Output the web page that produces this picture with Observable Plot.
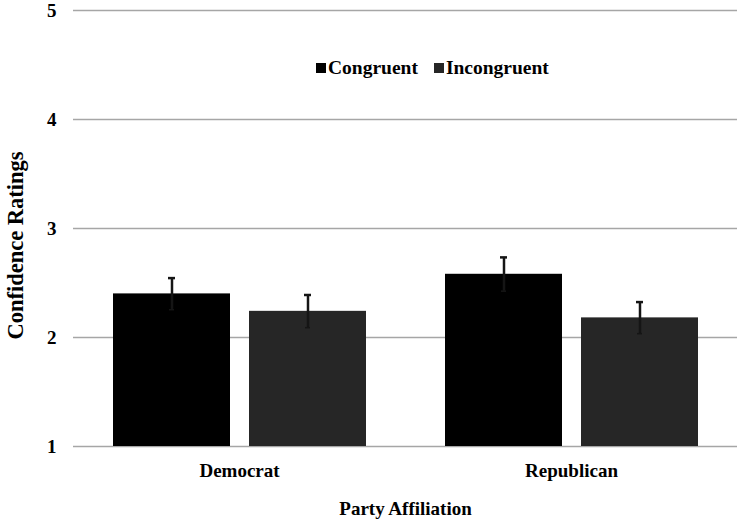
<!DOCTYPE html>
<html>
<head>
<meta charset="utf-8">
<script src="https://cdn.jsdelivr.net/npm/d3@7"></script>
<script src="https://cdn.jsdelivr.net/npm/@observablehq/plot@0.6"></script>
<style>
  html, body { margin: 0; padding: 0; background: #fff; }
  #wrap { position: relative; width: 742px; height: 523px; }
  #legend { position: absolute; top: 57px; left: 316px; display: flex; gap: 16px;
    font-family: "Liberation Serif", "Times New Roman", serif; font-weight: bold; font-size: 19.5px; color: #000; line-height: 22px; }
  #legend .item { display: flex; align-items: center; gap: 2px; }
  #legend .sw { width: 10px; height: 10px; display: inline-block; }
</style>
</head>
<body>
<div id="wrap"><div id="legend"></div></div>
<script>
const parties = ["Democrat", "Republican"];
const conditions = ["Congruent", "Incongruent"];
const congruent = [2.40, 2.58];
const incongruent = [2.24, 2.18];
const congruentErr = [0.145, 0.155];
const incongruentErr = [0.15, 0.145];
const yTicks = [1, 2, 3, 4, 5];
const colors = ["#000000", "#262626"];

const data = [];
parties.forEach((p, i) => {
  data.push({party: p, condition: conditions[0], value: congruent[i], err: congruentErr[i]});
  data.push({party: p, condition: conditions[1], value: incongruent[i], err: incongruentErr[i]});
});

const font = "'Liberation Serif', 'Times New Roman', serif";

const chart = Plot.plot({
  width: 742,
  height: 523,
  marginLeft: 73,
  marginRight: 5,
  marginTop: 10,
  marginBottom: 77,
  style: {fontFamily: font, fontWeight: "bold", fontSize: "18px", color: "#000", background: "#fff"},
  y: {domain: [1, 5]},
  fx: {domain: parties, padding: 0},
  x: {domain: conditions, paddingInner: 0.14, paddingOuter: 0.29, axis: null},
  color: {domain: conditions, range: colors},
  marks: [
    Plot.gridY(yTicks, {stroke: "#a6a6a6", strokeOpacity: 1, strokeWidth: 1.5}),
    Plot.barY(data, {fx: "party", x: "condition", y1: 1, y2: "value", fill: "condition"}),
    Plot.ruleX(data, {fx: "party", x: "condition", y1: d => d.value - d.err, y2: d => d.value + d.err, stroke: "#151515", strokeWidth: 2.5}),
    Plot.tickY(data, {fx: "party", x: "condition", y: d => d.value + d.err, stroke: "#151515", strokeWidth: 2.5, insetLeft: 55, insetRight: 55}),
    Plot.tickY(data, {fx: "party", x: "condition", y: d => d.value - d.err, stroke: "#151515", strokeWidth: 1.5, insetLeft: 56, insetRight: 56}),
    Plot.axisY(yTicks, {tickSize: 0, tickPadding: 17, label: null, fontSize: 19, tickFormat: d3.format("d")}),
    Plot.axisFx({anchor: "bottom", tickSize: 0, tickPadding: 17, fontSize: 19, label: "Party Affiliation", labelAnchor: "center", labelOffset: 68}),
    Plot.text(["Confidence Ratings"], {fx: () => parties[0], frameAnchor: "left", textAnchor: "middle", rotate: -90, dx: -58, dy: 17, fontSize: 22.5, fontWeight: "bold", fill: "#000"})
  ]
});

document.getElementById("wrap").prepend(chart);
chart.style.position = "absolute";
chart.style.left = "0";
chart.style.top = "0";

const legend = document.getElementById("legend");
conditions.forEach((c, i) => {
  const item = document.createElement("div");
  item.className = "item";
  const sw = document.createElement("span");
  sw.className = "sw";
  sw.style.background = colors[i];
  const t = document.createElement("span");
  t.textContent = c;
  item.append(sw, t);
  legend.append(item);
});
</script>
</body>
</html>
